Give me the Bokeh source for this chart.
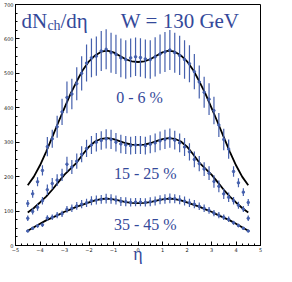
from bokeh.plotting import figure
from bokeh.models import Label, FixedTicker
from bokeh.embed import file_html
from bokeh.resources import INLINE

# ---- data -------------------------------------------------------------
eta = [-4.5, -4.3, -4.1, -3.9, -3.7, -3.5, -3.3, -3.1, -2.9, -2.7, -2.5, -2.3,
       -2.1, -1.9, -1.7, -1.5, -1.3, -1.1, -0.9, -0.7, -0.5, -0.3, -0.1,
       0.1, 0.3, 0.5, 0.7, 0.9, 1.1, 1.3, 1.5, 1.7, 1.9, 2.1, 2.3, 2.5, 2.7,
       2.9, 3.1, 3.3, 3.5, 3.7, 3.9, 4.1, 4.3, 4.5]

c0_6 = [122, 150, 185, 218, 287, 310, 345, 388, 430, 440, 470, 500, 530, 545, 550, 565,
        570, 560, 555, 545, 540, 545, 548,
        546, 542, 540, 548, 556, 562, 568, 560, 552, 540, 528, 505, 475, 445, 425, 392,
        350, 308, 280, 215, 182, 155, 125]
e0_6 = [10, 11, 13, 15, 28, 26, 32, 38, 46, 44, 48, 50, 54, 56, 57, 58, 58, 58, 57, 56,
        56, 56, 56,
        56, 56, 56, 57, 57, 58, 58, 58, 57, 56, 54, 51, 48, 45, 46, 40, 35, 31, 28, 15,
        13, 11, 10]

c15_25 = [79, 99, 111, 130, 162, 180, 190, 205, 236, 228, 245, 265, 282, 292, 300, 305,
          310, 308, 300, 295, 292, 290, 292,
          292, 290, 294, 298, 304, 308, 312, 306, 298, 286, 272, 250, 238, 222, 210, 186,
          172, 150, 140, 130, 117, 106, 79]
e15_25 = [8, 9, 10, 11, 15, 16, 17, 18, 22, 20, 22, 23, 25, 26, 27, 27, 28, 28, 27, 27,
          26, 26, 26,
          26, 26, 26, 27, 27, 28, 28, 27, 27, 26, 25, 23, 22, 20, 20, 18, 17, 15, 14, 11,
          10, 9, 8]

c35_45 = [42, 50, 57, 60, 80, 82, 88, 92, 105, 108, 115, 120, 124, 130, 132, 134, 136,
          135, 132, 128, 127, 125, 126,
          126, 125, 127, 129, 133, 135, 137, 136, 133, 129, 124, 120, 114, 108, 102, 94,
          88, 82, 76, 66, 58, 50, 42]
e35_45 = [3, 4, 5, 6, 8, 8, 9, 9, 10, 11, 11, 12, 12, 13, 13, 13, 14, 14, 13, 13, 13, 12,
          12,
          12, 12, 13, 13, 13, 14, 14, 13, 13, 13, 12, 12, 11, 11, 10, 9, 9, 8, 8, 6, 5, 4, 3]

eta_fit = [-4.5, -4.25, -4.0, -3.75, -3.5, -3.25, -3.0, -2.75, -2.5, -2.25, -2.0, -1.75,
           -1.5, -1.25, -1.0, -0.75, -0.5, -0.25, 0.0, 0.25, 0.5, 0.75, 1.0, 1.25, 1.5,
           1.75, 2.0, 2.25, 2.5, 2.75, 3.0, 3.25, 3.5, 3.75, 4.0, 4.25, 4.5]
fit0_6 = [175, 200, 233, 272, 315, 358, 400, 441, 477, 510, 535, 552, 563, 566, 561, 551,
          541, 535, 533, 535, 541, 551, 561, 566, 563, 552, 535, 510, 477, 441, 400, 358,
          315, 272, 233, 200, 175]
fit15_25 = [96, 109, 125, 142, 162, 184, 206, 223, 241, 265, 287, 302, 310, 312, 309, 303,
            297, 293, 292, 293, 297, 303, 309, 312, 310, 302, 287, 265, 241, 223, 206, 184,
            162, 142, 125, 109, 96]
fit35_45 = [43, 53, 63, 73, 81, 89, 98, 105, 113, 119, 125, 131, 135, 136, 134, 130, 126,
            124, 123, 124, 126, 130, 134, 136, 135, 131, 125, 119, 113, 105, 98, 89, 81, 73,
            63, 53, 43]

x_ticks = [-5, -4, -3, -2, -1, 0, 1, 2, 3, 4, 5]
y_ticks = [0, 100, 200, 300, 400, 500, 600, 700]
centrality = ["0 - 6 %", "15 - 25 %", "35 - 45 %"]

# ---- style ------------------------------------------------------------
BLUE = "#4560ad"
TXT = "#34499a"
SERIF = "Liberation Serif"

p = figure(width=276, height=266, x_range=(-5, 5), y_range=(0, 700),
           output_backend="svg", toolbar_location=None,
           min_border_left=13, min_border_right=16, min_border_top=4,
           min_border_bottom=18)
p.grid.visible = False
p.outline_line_color = "black"
p.outline_line_width = 1
p.background_fill_color = "white"
p.border_fill_color = "white"

p.xaxis.ticker = FixedTicker(ticks=x_ticks,
                             minor_ticks=[-5 + 0.25 * i for i in range(41)])
p.yaxis.ticker = FixedTicker(ticks=y_ticks,
                             minor_ticks=[25 * i for i in range(29)])
for ax in (p.xaxis[0], p.yaxis[0]):
    ax.major_tick_in = 4
    ax.major_tick_out = 0
    ax.minor_tick_in = 2
    ax.minor_tick_out = 0
    ax.major_tick_line_color = "black"
    ax.minor_tick_line_color = "black"
    ax.axis_line_color = "black"
    ax.major_label_text_font_size = "5px"
    ax.major_label_text_color = "#222222"
    ax.major_label_text_font = "DejaVu Sans"
    ax.major_label_standoff = 2
p.yaxis.major_label_orientation = "horizontal"

p.xaxis.axis_label = "η"
p.xaxis.axis_label_text_font = SERIF
p.xaxis.axis_label_text_font_style = "normal"
p.xaxis.axis_label_text_font_size = "18px"
p.xaxis.axis_label_text_color = TXT
p.xaxis.axis_label_standoff = -11

# ---- fits and data ----------------------------------------------------
for fit in (fit0_6, fit15_25, fit35_45):
    p.line(eta_fit, fit, line_color="black", line_width=1.8)

for vals, errs in ((c0_6, e0_6), (c15_25, e15_25), (c35_45, e35_45)):
    lo = [v - e for v, e in zip(vals, errs)]
    hi = [v + e for v, e in zip(vals, errs)]
    p.segment(x0=eta, y0=lo, x1=eta, y1=hi, line_color=BLUE, line_width=1.2)
    p.scatter(eta, vals, marker="circle", size=2.5, fill_color=BLUE,
              line_color=BLUE)

# ---- texts ------------------------------------------------------------
def lab(x, y, t, size, xo=0, yo=0, align="left"):
    p.add_layout(Label(x=x, y=y, text=t, x_offset=xo, y_offset=yo,
                       text_font=SERIF, text_font_size=size, text_color=TXT,
                       text_align=align, text_baseline="alphabetic"))

lab(-4.76, 651, "dN", "21px")
lab(-4.76, 651, "ch", "14px", xo=26, yo=-4)
lab(-4.76, 651, "/dη", "21px", xo=39)
lab(-0.7, 651, "W = 130 GeV", "21px")

lab(0.06, 430, centrality[0], "16px", align="center")
lab(0.3, 208, centrality[1], "16px", align="center")
lab(0.3, 61, centrality[2], "16px", align="center")

open("out.html", "w").write(file_html(p, INLINE))
